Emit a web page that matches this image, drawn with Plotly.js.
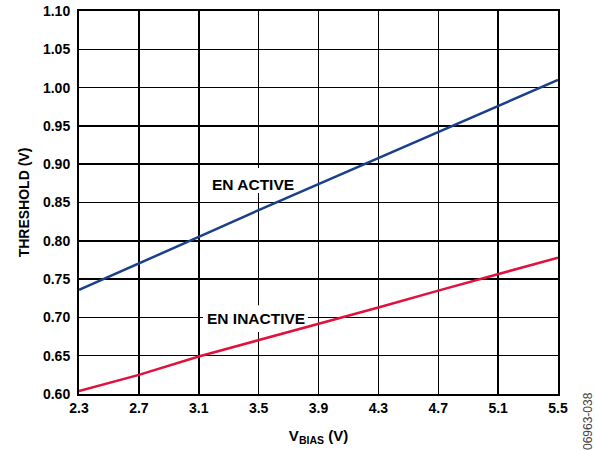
<!DOCTYPE html>
<html>
<head>
<meta charset="utf-8">
<script src="https://cdn.plot.ly/plotly-3.0.1.min.js"></script>
<style>html,body{margin:0;padding:0;background:#fff;}#chart{width:595px;height:451px;}</style>
</head>
<body>
<div id="chart"></div>
<script>
const vbias = [2.3, 2.7, 3.1, 3.5, 3.9, 4.3, 4.7, 5.1, 5.5];
const enActive = [0.736, 0.770, 0.805, 0.840, 0.874, 0.909, 0.943, 0.977, 1.010];
const enInactive = [0.604, 0.625, 0.649, 0.670, 0.692, 0.713, 0.735, 0.757, 0.778];
const xTicks = [2.3, 2.7, 3.1, 3.5, 3.9, 4.3, 4.7, 5.1, 5.5];
const yTicks = [0.60, 0.65, 0.70, 0.75, 0.80, 0.85, 0.90, 0.95, 1.00, 1.05, 1.10];
const seriesLabels = ['EN ACTIVE', 'EN INACTIVE'];

const fam = 'Liberation Sans, Arial, sans-serif';

const traces = [
  {x: vbias, y: enActive, mode: 'lines', line: {color: '#1b408b', width: 2.5}, name: seriesLabels[0], hoverinfo: 'skip'},
  {x: vbias, y: enInactive, mode: 'lines', line: {color: '#e0113c', width: 2.5}, name: seriesLabels[1], hoverinfo: 'skip'}
];

const L = 79, R = 37, T = 11, B = 57;
const plotW = 595 - L - R, plotH = 451 - T - B;

const layout = {
  width: 595, height: 451,
  margin: {l: L, r: R, t: T, b: B},
  paper_bgcolor: '#fff', plot_bgcolor: '#fff',
  showlegend: false,
  font: {family: fam, size: 14, color: '#000'},
  xaxis: {
    range: [2.3, 5.5], tickvals: xTicks, ticktext: xTicks.map(v => v.toFixed(1)),
    showgrid: true, gridcolor: '#000', gridwidth: 1.5,
    showline: true, linecolor: '#000', linewidth: 2, mirror: true,
    ticks: '', zeroline: false,
    tickfont: {family: fam, size: 14, color: '#000', weight: 'bold'},
    title: {text: '<b>V<sub>BIAS</sub> (V)</b>', font: {family: fam, size: 15, color: '#000'}, standoff: 16}
  },
  yaxis: {
    range: [0.60, 1.10], tickvals: yTicks, ticktext: yTicks.map(v => v.toFixed(2)),
    showgrid: true, gridcolor: '#000', gridwidth: 1.5,
    showline: true, linecolor: '#000', linewidth: 2, mirror: true,
    ticks: '', zeroline: false, ticklabelstandoff: 4,
    tickfont: {family: fam, size: 14, color: '#000', weight: 'bold'},
    title: {text: '<b>THRESHOLD (V)</b>', font: {family: fam, size: 14, color: '#000'}, standoff: 10}
  },
  shapes: [
    {type: 'rect', xref: 'x', yref: 'y', x0: 3.141, x1: 3.789, y0: 0.8624, y1: 0.895,
     fillcolor: '#fff', line: {width: 0}, layer: 'between'},
    {type: 'rect', xref: 'x', yref: 'y', x0: 3.128, x1: 3.829, y0: 0.681, y1: 0.716,
     fillcolor: '#fff', line: {width: 0}, layer: 'between'}
  ],
  annotations: [
    {x: 3.462, y: 0.874, xref: 'x', yref: 'y', text: '<b>' + seriesLabels[0] + '</b>', showarrow: false,
     font: {family: fam, size: 15.5, color: '#000'}},
    {x: 3.482, y: 0.698, xref: 'x', yref: 'y', text: '<b>' + seriesLabels[1] + '</b>', showarrow: false,
     font: {family: fam, size: 15.5, color: '#000'}},
    {x: (588 - L) / plotW, y: (451 - B - 421) / plotH, xref: 'paper', yref: 'paper', text: '06963-038',
     xanchor: 'center', yanchor: 'middle',
     showarrow: false, textangle: -90, font: {family: fam, size: 12, color: '#444'}}
  ]
};

Plotly.newPlot('chart', traces, layout, {staticPlot: true, displayModeBar: false});
</script>
</body>
</html>
